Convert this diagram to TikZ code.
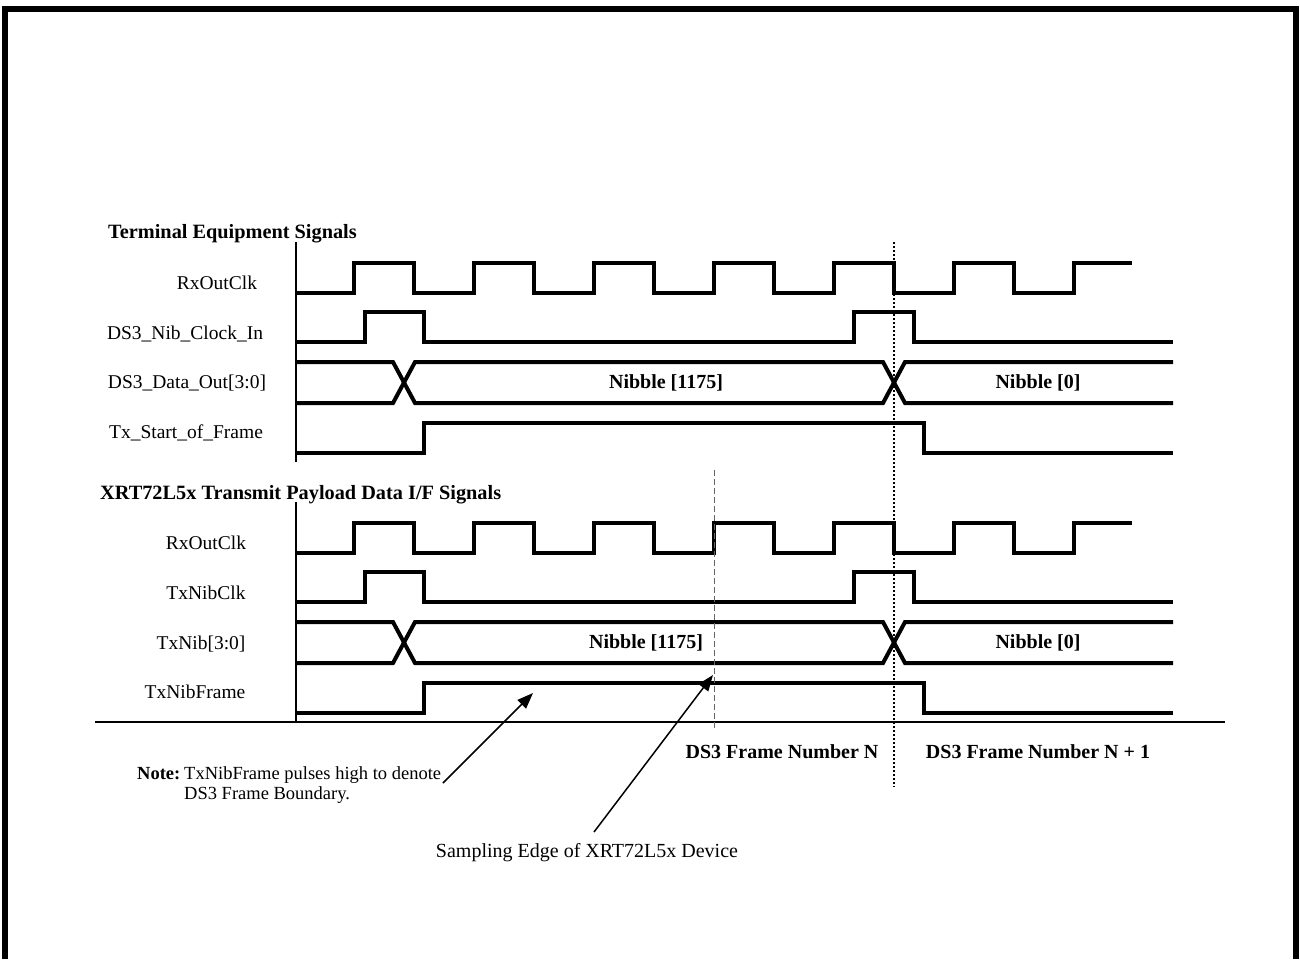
\documentclass[tikz,border=0pt]{standalone}
\usepackage{fontspec}
\setmainfont{Liberation Serif}
\usetikzlibrary{arrows.meta}

\begin{document}
\begin{tikzpicture}[x=1pt, y=-1pt, line join=miter,
  sig/.style={line width=4pt},
  axis/.style={line width=2pt},
  lbl/.style={font=\fontsize{19.5}{21}\selectfont, inner sep=0pt, anchor=base},
  blbl/.style={lbl, font=\fontsize{20}{22}\selectfont\bfseries},
  hdr/.style={blbl, font=\fontsize{20.3}{22}\selectfont\bfseries, anchor=base west},
  notetxt/.style={lbl, font=\fontsize{18.5}{20}\selectfont, anchor=base west},
  pointer/.style={-{Triangle[length=16pt,width=12pt]}, line width=1.5pt}]
  \useasboundingbox (0,0) rectangle (1300,959);
  \draw[line width=6pt] (4.5,959) -- (4.5,9) -- (1296,9) -- (1296,959);

  % both groups of waveforms
  \foreach \dy in {0,260} {
    \draw[sig] (296,293+\dy) \foreach \k in {0,...,5} {
        -- ({354+120*\k},293+\dy) -- ({354+120*\k},263+\dy)
        -- ({414+120*\k},263+\dy) -- ({414+120*\k},293+\dy) }
      -- (1074,293+\dy) -- (1074,263+\dy) -- (1132,263+\dy);
    \draw[sig] (296,342+\dy) -- (365,342+\dy) -- (365,312+\dy) -- (424,312+\dy)
      -- (424,342+\dy) -- (854,342+\dy) -- (854,312+\dy) -- (914,312+\dy)
      -- (914,342+\dy) -- (1173,342+\dy);
    \draw[sig] (296,362+\dy) -- (393,362+\dy) -- (415,403+\dy) -- (883,403+\dy)
      -- (905,362+\dy) -- (1173,362+\dy);
    \draw[sig] (296,403+\dy) -- (393,403+\dy) -- (415,362+\dy) -- (883,362+\dy)
      -- (905,403+\dy) -- (1173,403+\dy);
    \draw[sig] (296,453+\dy) -- (424,453+\dy) -- (424,423+\dy) -- (924,423+\dy)
      -- (924,453+\dy) -- (1173,453+\dy);
    \draw[axis] (296,242+\dy) -- (296,462+\dy);
  }
  \draw[line width=1.5pt] (95,722) -- (1225,722);
  \draw[line width=2pt, dash pattern=on 2pt off 2pt] (894,242) -- (894,787);
  \draw[line width=1pt, black!60, dash pattern=on 6pt off 3pt] (714,470) -- (714,729);

  % terminal side
  \node[hdr] (termhdr) at (108,238) {Terminal Equipment Signals};
  \node[lbl] (rxclkA) at (217,289) {RxOutClk};
  \node[lbl] (nibclkin) at (185,339) {DS3\_Nib\_Clock\_In};
  \node[lbl] (dataout) at (187,388) {DS3\_Data\_Out[3:0]};
  \node[lbl] (startfrm) at (186,438) {Tx\_Start\_of\_Frame};
  \node[blbl] (nibA) at (666,388) {Nibble [1175]};
  \node[blbl] (nibzA) at (1038,388) {Nibble [0]};

  % device side
  \node[hdr] (xrthdr) at (100,499) {XRT72L5x Transmit Payload Data I/F Signals};
  \node[lbl] (rxclkB) at (206,549) {RxOutClk};
  \node[lbl] (txnibclk) at (206,599) {TxNibClk};
  \node[lbl] (txnib) at (201,649) {TxNib[3:0]};
  \node[lbl] (txnibfrm) at (195,698) {TxNibFrame};
  \node[blbl] (nibB) at (646,648) {Nibble [1175]};
  \node[blbl] (nibzB) at (1038,648) {Nibble [0]};

  \node[blbl] (frmN) at (782,758) {DS3 Frame Number N};
  \node[blbl] (frmN1) at (1038,758) {DS3 Frame Number N + 1};

  % notes
  \node[notetxt, font=\fontsize{18.5}{20}\selectfont\bfseries] (notehd) at (137,779) {Note:};
  \node[notetxt] (notea) at (184,779) {TxNibFrame pulses high to denote};
  \node[notetxt] (noteb) at (184,799) {DS3 Frame Boundary.};
  \node[lbl, font=\fontsize{20}{22}\selectfont] (smpl) at (587,857) {Sampling Edge of XRT72L5x Device};

  \coordinate (bndtail) at (443,783);
  \coordinate (bndtip) at (533,693);
  \coordinate (smptail) at (594,832);
  \coordinate (smptip) at (713,675);
  \draw[pointer] (bndtail) -- (bndtip);
  \draw[pointer] (smptail) -- (smptip);
\end{tikzpicture}
\end{document}
